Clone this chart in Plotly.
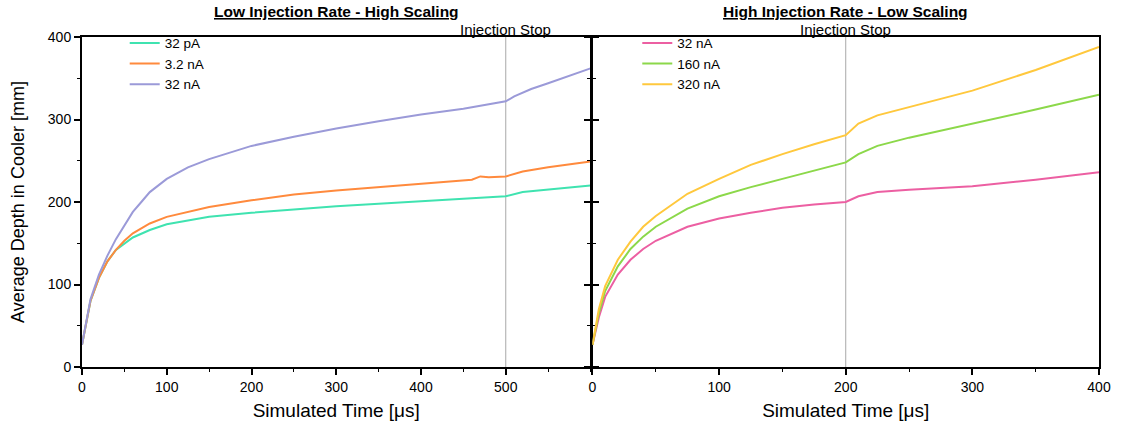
import plotly.graph_objects as go

# ---- Data: left panel (Low Injection Rate - High Scaling) ----
t_32pA = [0, 10, 20, 30, 40, 50, 60, 80, 100, 150, 200, 250, 300, 350, 400, 450, 500, 520, 550, 600]
d_32pA = [27, 80, 108, 128, 142, 150, 157, 166, 173, 182, 187, 191, 195, 198, 201, 204, 207, 212, 215, 220]

t_3p2nA = [0, 10, 20, 30, 40, 50, 60, 80, 100, 150, 200, 250, 300, 350, 400, 460, 470, 480, 500, 520, 550, 600]
d_3p2nA = [27, 80, 108, 128, 142, 153, 162, 174, 182, 194, 202, 209, 214, 218, 222, 227, 231, 230, 231, 237, 242, 249]

t_32nA_L = [0, 10, 20, 30, 40, 50, 60, 70, 80, 100, 125, 150, 200, 250, 300, 350, 400, 450, 500, 510, 530, 550, 600]
d_32nA_L = [27, 82, 112, 135, 155, 172, 188, 200, 212, 228, 242, 252, 268, 279, 289, 298, 306, 313, 322, 328, 337, 344, 362]

# ---- Data: right panel (High Injection Rate - Low Scaling) ----
t_R = [0, 5, 10, 20, 30, 40, 50, 75, 100, 125, 150, 175, 200, 210, 225, 250, 300, 350, 400]
d_32nA_R = [27, 60, 85, 112, 130, 143, 153, 170, 180, 187, 193, 197, 200, 207, 212, 215, 219, 227, 236]
d_160nA = [27, 65, 92, 122, 143, 158, 170, 192, 207, 218, 228, 238, 248, 258, 268, 278, 295, 312, 330]
d_320nA = [27, 70, 98, 130, 152, 170, 183, 210, 228, 245, 258, 270, 281, 295, 305, 315, 335, 360, 388]

left_names = ["32 pA", "3.2 nA", "32 nA"]
right_names = ["32 nA", "160 nA", "320 nA"]
left_colors = ["#3FE3B0", "#FF8A3D", "#9B9AD8"]
right_colors = ["#EC5FA2", "#8CD84A", "#FFC83D"]

stop_left = 500
stop_right = 200

FONT = "Arial, Liberation Sans, sans-serif"

fig = go.Figure()
for t, d, n, c in zip([t_32pA, t_3p2nA, t_32nA_L], [d_32pA, d_3p2nA, d_32nA_L], left_names, left_colors):
    fig.add_trace(go.Scatter(x=t, y=d, name=n, mode="lines", line=dict(color=c, width=2),
                             xaxis="x", yaxis="y", legend="legend"))
for d, n, c in zip([d_32nA_R, d_160nA, d_320nA], right_names, right_colors):
    fig.add_trace(go.Scatter(x=t_R, y=d, name=n, mode="lines", line=dict(color=c, width=2),
                             xaxis="x2", yaxis="y2", legend="legend2"))

left_end = 510 / 1020
right_start = 512 / 1020

common_x = dict(showgrid=False, zeroline=False, showline=True, linecolor="black", linewidth=2,
                mirror=True, ticks="outside", ticklen=6, tickwidth=2, tickcolor="black",
                tickfont=dict(family=FONT, size=14, color="black"),
                title=dict(text="Simulated Time [μs]", font=dict(family=FONT, size=19, color="black"), standoff=10),
                minor=dict(ticks="outside", ticklen=3, tickwidth=1, tickcolor="black", dtick=50))

fig.update_layout(
    width=1123, height=430,
    margin=dict(l=82, r=21, t=37, b=63),
    plot_bgcolor="white", paper_bgcolor="white",
    font=dict(family=FONT, color="black"),
    xaxis=dict(domain=[0, left_end], range=[0, 600], tickvals=[0, 100, 200, 300, 400, 500],
               anchor="y", **common_x),
    xaxis2=dict(domain=[right_start, 1], range=[0, 400], tickvals=[0, 100, 200, 300, 400],
                anchor="y2", **common_x),
    yaxis=dict(range=[0, 400], tickvals=[0, 100, 200, 300, 400], anchor="x",
               showgrid=False, zeroline=False, showline=True, linecolor="black", linewidth=2,
               mirror="ticks", ticks="outside", ticklen=6, tickwidth=2, tickcolor="black",
               tickfont=dict(family=FONT, size=14, color="black"),
               minor=dict(ticks="outside", ticklen=3, tickwidth=1, tickcolor="black", dtick=50),
               title=dict(text="Average Depth in Cooler [mm]", font=dict(family=FONT, size=18, color="black"), standoff=19)),
    yaxis2=dict(range=[0, 400], tickvals=[0, 100, 200, 300, 400], anchor="x2",
                showgrid=False, zeroline=False, showline=True, linecolor="black", linewidth=2,
                mirror=True, ticks="outside", ticklen=6, tickwidth=2, tickcolor="black",
                showticklabels=False,
                minor=dict(ticks="outside", ticklen=3, tickwidth=1, tickcolor="black", dtick=50)),
    legend=dict(x=0.042, y=1.028, xanchor="left", yanchor="top", bgcolor="rgba(0,0,0,0)",
                font=dict(family=FONT, size=13.5, color="black"), tracegroupgap=0),
    legend2=dict(x=0.546, y=1.028, xanchor="left", yanchor="top", bgcolor="rgba(0,0,0,0)",
                 font=dict(family=FONT, size=13.5, color="black"), tracegroupgap=0),
    showlegend=True,
)

# Injection stop lines
for xr, ydom, xv in [("x", "y domain", stop_left), ("x2", "y2 domain", stop_right)]:
    fig.add_shape(type="line", xref=xr, yref=ydom,
                  x0=xv, x1=xv, y0=0, y1=1, line=dict(color="#A8A8A8", width=1), layer="below")
    fig.add_annotation(x=xv, xref=xr, xanchor="center", y=1, yref="paper", yanchor="bottom",
                       text="Injection Stop", showarrow=False,
                       font=dict(family=FONT, size=15, color="black"), yshift=-3)

# Panel titles
fig.add_annotation(x=left_end / 2, xref="paper", xanchor="center", y=1.0, yref="paper", yanchor="bottom",
                   text="<b><u>Low Injection Rate - High Scaling</u></b>", showarrow=False,
                   font=dict(family=FONT, size=15.5, color="black"), yshift=15)
fig.add_annotation(x=(right_start + 1) / 2, xref="paper", xanchor="center", y=1.0, yref="paper", yanchor="bottom",
                   text="<b><u>High Injection Rate - Low Scaling</u></b>", showarrow=False,
                   font=dict(family=FONT, size=15.5, color="black"), yshift=15)

fig.write_html("out.html", config={"displayModeBar": False},
               post_script="document.body.style.margin='0px';")
